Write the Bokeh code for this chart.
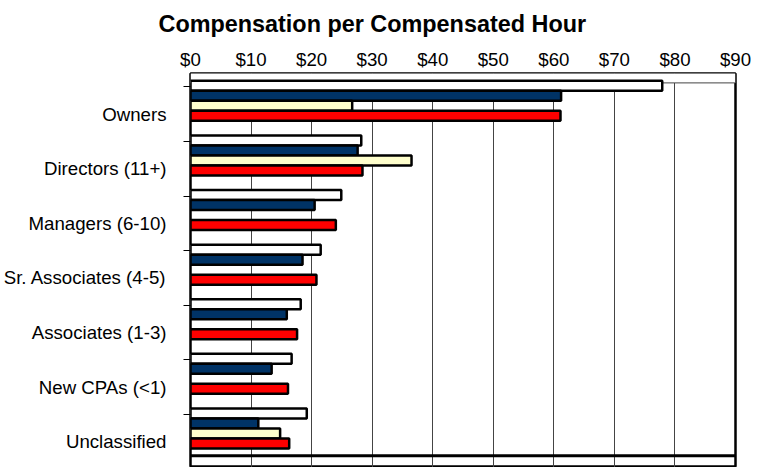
from bokeh.plotting import figure
from bokeh.models import Range1d, FixedTicker, ColumnDataSource, BoxAnnotation, Span
from bokeh.embed import file_html
from bokeh.resources import INLINE

# ---------------- data ----------------
categories = ["Owners", "Directors (11+)", "Managers (6-10)", "Sr. Associates (4-5)",
              "Associates (1-3)", "New CPAs (<1)", "Unclassified"]
series_names = ["Series 1", "Series 2", "Series 3", "Series 4"]
series_1 = [77.9, 28.2, 24.9, 21.5, 18.2, 16.7, 19.2]
series_2 = [61.2, 27.6, 20.5, 18.5, 15.9, 13.4, 11.2]
series_3 = [26.7, 36.5, None, None, None, None, 14.8]
series_4 = [61.1, 28.4, 24.0, 20.8, 17.6, 16.1, 16.3]
x_ticks = [0, 10, 20, 30, 40, 50, 60, 70, 80, 90]
x_tick_labels = ["$0", "$10", "$20", "$30", "$40", "$50", "$60", "$70", "$80", "$90"]

# ---------------- styles ----------------
colors = ["#FFFFFF", "#003366", "#FFFFCC", "#FF0000"]
group_offset = -0.11
bar_step = 0.183
FONT = "Liberation Sans"
LABEL_SIZE = "18.67px"
Y_TOP = -0.245
Y_FLOOR = 6.755
Y_BOTTOM = Y_TOP + 394 / 54.6
WALL_TOP = -0.073

p = figure(width=751, height=467,
           x_range=Range1d(0, 90), y_range=Range1d(Y_BOTTOM, Y_TOP),
           x_axis_location="above", output_backend="svg", toolbar_location=None,
           min_border_left=182, min_border_right=16, min_border_top=73,
           min_border_bottom=0)

p.background_fill_color = "white"
p.border_fill_color = "white"
p.outline_line_color = "black"
p.outline_line_width = 2.5

# title
p.title.text = "Compensation per Compensated Hour"
p.title.text_font = FONT
p.title.text_font_style = "bold"
p.title.text_font_size = "23.4px"
p.title.text_color = "black"
p.title.align = "left"
p.title.offset = -32
p.title.standoff = 17

# grid
p.ygrid.visible = False
p.xgrid.ticker = FixedTicker(ticks=x_ticks)
p.xgrid.grid_line_color = "#444444"
p.xgrid.grid_line_width = 1

# white strip above the back wall, and the wall's top edge
p.add_layout(BoxAnnotation(top=Y_TOP - 1.0, bottom=WALL_TOP, fill_color="white", fill_alpha=1.0,
                           line_alpha=0, level="underlay"))
p.add_layout(Span(location=WALL_TOP, dimension="width", line_color="#444444",
                  line_width=1, level="underlay"))
# floor edge of the chart frame (gridlines continue below it)
p.add_layout(Span(location=Y_FLOOR, dimension="width", line_color="black",
                  line_width=3))

# top axis
xa = p.xaxis[0]
xa.ticker = FixedTicker(ticks=x_ticks)
xa.major_label_overrides = {t: l for t, l in zip(x_ticks, x_tick_labels)}
xa.major_label_text_font = FONT
xa.major_label_text_font_size = LABEL_SIZE
xa.major_label_text_color = "black"
xa.major_tick_out = 0
xa.major_tick_in = 0
xa.minor_tick_out = 0
xa.minor_tick_in = 0
xa.axis_line_color = None
xa.major_label_standoff = 4

# left axis
ya = p.yaxis[0]
n = len(categories)
ya.ticker = FixedTicker(ticks=[i + 0.5 for i in range(n)], minor_ticks=list(range(n)))
ya.major_label_overrides = {i + 0.5: c for i, c in enumerate(categories)}
ya.major_label_text_font = FONT
ya.major_label_text_font_size = LABEL_SIZE
ya.major_label_text_color = "black"
ya.major_tick_out = 0
ya.major_tick_in = 0
ya.minor_tick_out = 7
ya.minor_tick_in = 0
ya.minor_tick_line_color = "black"
ya.axis_line_color = None
ya.major_label_standoff = 17

# bars
all_series = [series_1, series_2, series_3, series_4]
for j, (vals, col, name) in enumerate(zip(all_series, colors, series_names)):
    ys, xs = [], []
    for i, v in enumerate(vals):
        if v is None:
            continue
        ys.append(i + group_offset + (j + 0.5) * bar_step)
        xs.append(v)
    src = ColumnDataSource(dict(y=ys, right=xs))
    p.hbar(y="y", left=0, right="right", height=bar_step, source=src,
           fill_color=col, line_color="black", line_width=2.5, name=name)

open("out.html", "w").write(file_html(p, INLINE))
